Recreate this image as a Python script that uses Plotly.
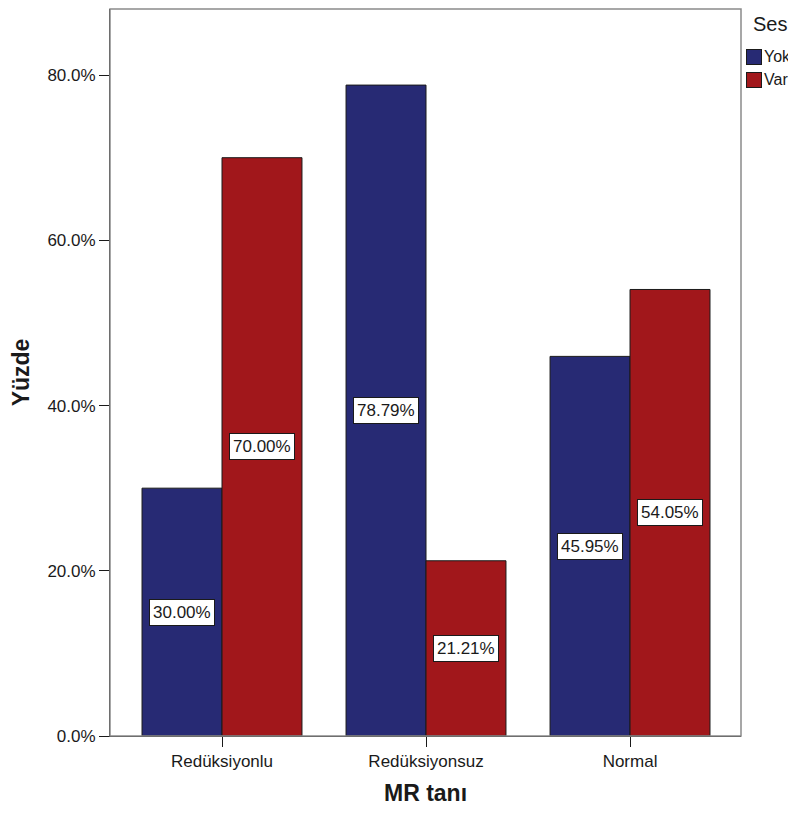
import plotly.graph_objects as go

categories = ["Redüksiyonlu", "Redüksiyonsuz", "Normal"]
series_names = ["Yok", "Var"]
yok_values = [30.00, 78.79, 45.95]
var_values = [70.00, 21.21, 54.05]
colors = ["#272A74", "#A1171B"]
legend_title = "Ses"
x_title = "MR tanı"
y_title = "Yüzde"
y_tickvals = [0, 20, 40, 60, 80]
y_ticktext = ["0.0%", "20.0%", "40.0%", "60.0%", "80.0%"]

FONT = "Liberation Sans, Arial, sans-serif"
TXT = "#1a1a1a"

fig = go.Figure()
for name, vals, col in zip(series_names, [yok_values, var_values], colors):
    fig.add_trace(go.Bar(
        x=categories, y=vals, name=name, showlegend=False,
        marker=dict(color=col, line=dict(color="#1a1a1a", width=1)),
        hoverinfo="skip",
    ))

# value labels in boxes at mid-height of each bar
n = len(series_names)
group_w = 0.784
for si, vals in enumerate([yok_values, var_values]):
    offset = -group_w / 2 + group_w / n * (si + 0.5)
    for ci, v in enumerate(vals):
        fig.add_annotation(
            x=ci + offset, y=v / 2, xref="x", yref="y",
            text=f"{v:.2f}%", showarrow=False,
            font=dict(family=FONT, size=17, color=TXT),
            bgcolor="white", bordercolor="#1a1a1a", borderwidth=1, borderpad=3,
        )

# legend (title, swatches, names) placed right of the plot
fig.add_annotation(
    x=1.046, y=0.979, xref="paper", yref="paper", text=legend_title,
    showarrow=False, xanchor="center", yanchor="middle",
    font=dict(family=FONT, size=20, color=TXT),
)
legend_y = [0.934, 0.9027]
for name, col, ly in zip(series_names, colors, legend_y):
    fig.add_annotation(
        x=1.0206, y=ly, xref="paper", yref="paper", text="&nbsp;",
        showarrow=False, xanchor="center", yanchor="middle",
        width=14, height=14, borderpad=0,
        bgcolor=col, bordercolor="#1a1a1a", borderwidth=1,
        font=dict(size=6),
    )
    fig.add_annotation(
        x=1.0335, y=ly, xref="paper", yref="paper", text=name,
        showarrow=False, xanchor="left", yanchor="middle",
        font=dict(family=FONT, size=16, color=TXT),
    )

fig.add_shape(type="rect", xref="paper", yref="paper", x0=0, y0=0, x1=1, y1=1,
              line=dict(color="#8a8a8a", width=1.5), layer="above")

fig.update_layout(
    width=788, height=798,
    margin=dict(l=102, r=55, t=1, b=70, autoexpand=False),
    plot_bgcolor="white", paper_bgcolor="white",
    barmode="group", bargap=0.216, bargroupgap=0,
    font=dict(family=FONT, size=17, color=TXT),
    showlegend=False,
    xaxis=dict(
        range=[-0.549, 2.544], showgrid=False, showline=True, linecolor="#1a1a1a",
        ticks="outside", ticklen=10, tickcolor="#1a1a1a",
        title=dict(text=f"<b>{x_title}</b>", font=dict(size=23), standoff=18),
        tickfont=dict(size=17),
    ),
    yaxis=dict(
        range=[0, 88.0], showgrid=False, showline=True, linecolor="#1a1a1a",
        ticks="outside", ticklen=10, tickcolor="#1a1a1a",
        tickvals=y_tickvals, ticktext=y_ticktext,
        title=dict(text=f"<b>{y_title}</b>", font=dict(size=23), standoff=14),
        tickfont=dict(size=17), zeroline=False,
    ),
)

fig.write_html("out.html")
